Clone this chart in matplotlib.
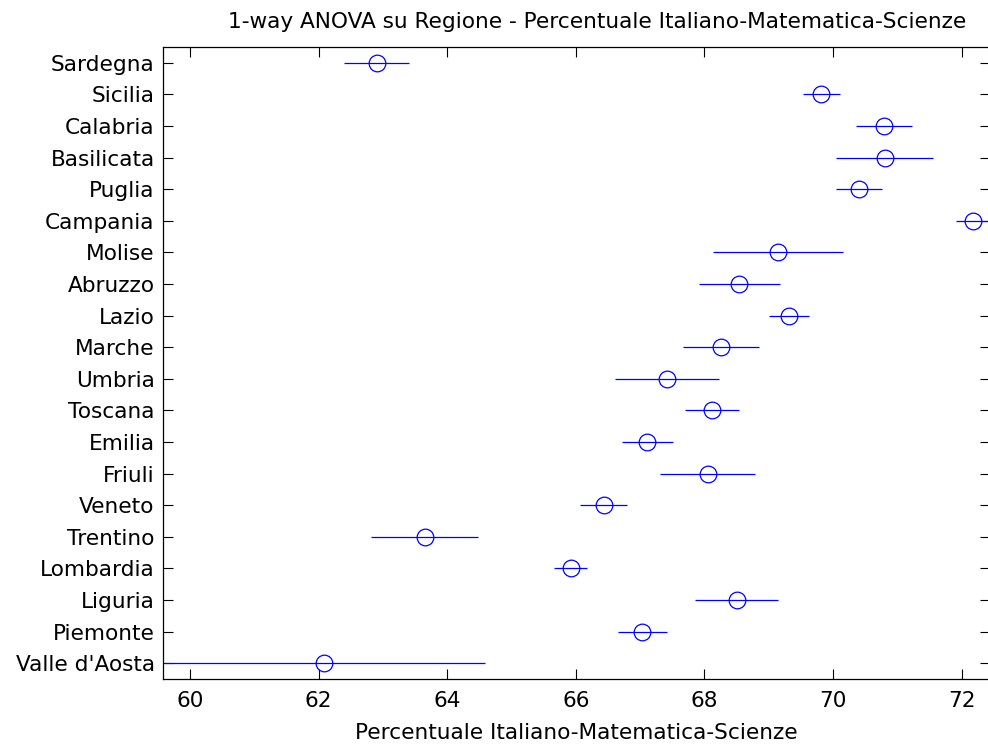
import numpy as np
import matplotlib
matplotlib.use("Agg")
import matplotlib.pyplot as plt

plt.rcParams['font.family'] = ['DejaVu Sans']

# regioni dal basso verso l'alto
regioni = ["Valle d'Aosta", "Piemonte", "Liguria", "Lombardia", "Trentino",
           "Veneto", "Friuli", "Emilia", "Toscana", "Umbria", "Marche",
           "Lazio", "Abruzzo", "Molise", "Campania", "Puglia", "Basilicata",
           "Calabria", "Sicilia", "Sardegna"]
medie = [62.09, 67.03, 68.50, 65.92, 63.65, 66.43, 68.05, 67.11, 68.11,
         67.42, 68.26, 69.31, 68.54, 69.15, 72.18, 70.40, 70.80, 70.79,
         69.82, 62.90]
semi_ampiezza = [2.49, 0.38, 0.65, 0.26, 0.83, 0.36, 0.74, 0.40, 0.42,
                 0.81, 0.59, 0.31, 0.63, 1.01, 0.27, 0.36, 0.76, 0.44,
                 0.28, 0.51]

medie = np.array(medie)
semi_ampiezza = np.array(semi_ampiezza)
y = np.arange(1, len(regioni) + 1)

fig = plt.figure(figsize=(9.88, 7.44), dpi=100)
ax = fig.add_axes([0.165, 0.0874, 0.837, 0.8494])

ax.hlines(y, medie - semi_ampiezza, medie + semi_ampiezza, color='blue', linewidth=0.9)
ax.plot(medie, y, 'o', mfc='none', mec='blue', ms=12, mew=0.9, linestyle='none')

ax.set_xlim(59.58, 72.44)
ax.set_ylim(0.5, len(regioni) + 0.5)
ax.set_xticks([60, 62, 64, 66, 68, 70, 72])
ax.set_yticks(y)
ax.set_yticklabels(regioni)

ax.tick_params(direction='in', length=7, width=0.8, top=True, right=True,
               labelsize=15.6, colors='black')
ax.tick_params(axis='x', pad=9)
ax.tick_params(axis='y', pad=6)
for s in ax.spines.values():
    s.set_linewidth(0.9)

ax.set_xlabel('Percentuale Italiano-Matematica-Scienze', fontsize=15.6, labelpad=8)
ax.set_title('1-way ANOVA su Regione - Percentuale Italiano-Matematica-Scienze',
             fontsize=15.6, pad=14, x=0.525)

fig.savefig('out.png', dpi=100)
